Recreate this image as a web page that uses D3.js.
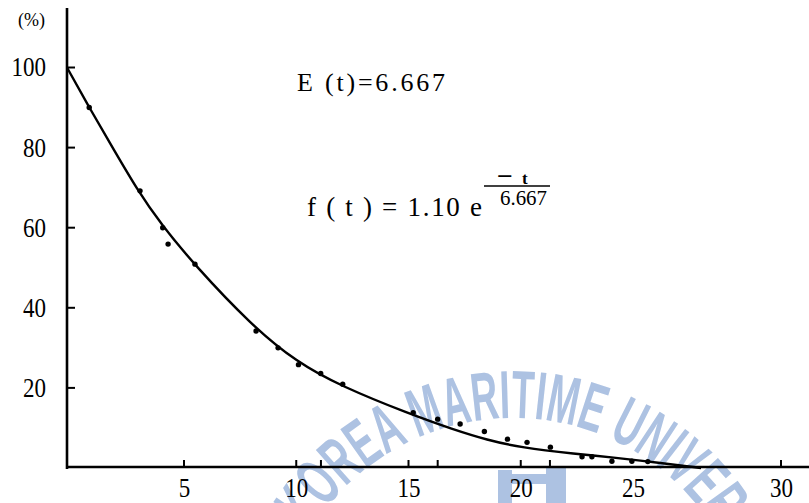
<!DOCTYPE html>
<html>
<head>
<meta charset="utf-8">
<script src="https://cdn.jsdelivr.net/npm/d3@7/dist/d3.min.js"></script>
<style>
  html, body { margin: 0; padding: 0; background: #fff; }
  svg { display: block; }
</style>
</head>
<body>
<svg id="chart" width="809" height="503"></svg>
<script>
// Observed retention (%) against time t
const obsT = [0.95, 3.12, 4.09, 4.32, 5.49, 8.21, 9.19, 10.1, 11.09, 12.07, 15.21, 16.3, 17.3, 18.38, 19.41, 20.28, 21.32, 22.73, 23.17, 24.06, 24.95, 25.5];
const obsV = [90.0, 69.2, 60.0, 55.9, 50.9, 34.2, 30.0, 25.8, 23.6, 20.9, 13.8, 12.2, 11.0, 9.1, 7.2, 6.4, 5.2, 2.8, 2.8, 1.7, 1.7, 1.6];

// Fitted curve, sampled along t
const fitT = [0, 1, 2, 3, 4, 5.5, 8, 10, 12, 15, 17, 18.5, 20, 22.5, 24, 26, 27.3];
const fitV = [100, 89.5, 79.5, 69.5, 61, 50.5, 35.7, 26.5, 20.4, 13.6, 9.6, 7.0, 5.1, 3.5, 2.7, 1.2, 0];

// Axis ticks
const xTickLabels = [5, 10, 15, 20, 25, 30];
const xTickMarks = [5, 10, 11.1, 15, 16.3, 20, 21.3, 30];
const yTickLabels = [20, 40, 60, 80, 100];

const svg = d3.select("#chart");
const serif = "'Liberation Serif', 'DejaVu Serif', serif";

const x = d3.scaleLinear().domain([0, 5, 25, 30]).range([67, 184, 633, 781]);
const y = d3.scaleLinear().domain([0, 100]).range([468, 67.5]);

// Watermark seal text, laid along an arc
const wm = svg.append("g").attr("fill", "#adc2e2");
const cx = 513, cy = 656, rBase = 238;
const a0 = -58.3 * Math.PI / 180, a1 = 77.5 * Math.PI / 180;
const p = (a, r) => [cx + r * Math.sin(a), cy - r * Math.cos(a)];
const [sx, sy] = p(a0, rBase), [ex, ey] = p(a1, rBase);
wm.append("path").attr("id", "sealArc")
  .attr("d", `M${sx},${sy} A${rBase},${rBase} 0 0 1 ${ex},${ey}`)
  .attr("fill", "none");
wm.append("text")
  .attr("font-family", "'Liberation Sans', sans-serif")
  .attr("font-weight", "bold").attr("font-size", 68)
  .append("textPath").attr("href", "#sealArc")
  .attr("textLength", rBase * (a1 - a0)).attr("lengthAdjust", "spacingAndGlyphs")
  .text("KOREA MARITIME UNIVERSITY");
// seal emblem
wm.append("rect").attr("x", 498).attr("y", 470).attr("width", 14).attr("height", 40);
wm.append("rect").attr("x", 546).attr("y", 468).attr("width", 20).attr("height", 42);
wm.append("rect").attr("x", 498).attr("y", 474).attr("width", 68).attr("height", 10);

// Axes
const axisG = svg.append("g").attr("stroke", "#000").attr("fill", "none");
axisG.append("line").attr("x1", x(0)).attr("x2", x(0)).attr("y1", 8).attr("y2", y(0) + 1)
  .attr("stroke-width", 2.6);
axisG.append("line").attr("x1", x(0) - 1).attr("x2", 809).attr("y1", y(0) - 1).attr("y2", y(0) - 1)
  .attr("stroke-width", 2.6);

axisG.selectAll(".yt").data(yTickLabels).join("line")
  .attr("x1", x(0)).attr("x2", x(0) + 8)
  .attr("y1", d => y(d)).attr("y2", d => y(d)).attr("stroke-width", 2);
axisG.selectAll(".xt").data(xTickMarks).join("line")
  .attr("x1", d => x(d)).attr("x2", d => x(d))
  .attr("y1", y(0) - 1).attr("y2", y(0) - 8).attr("stroke-width", 2);

// Tick labels via d3 axes (tick lines hidden, marks drawn above)
const yAxis = svg.append("g").attr("transform", `translate(${x(0)},0)`)
  .call(d3.axisLeft(y).tickValues(yTickLabels).tickSize(0).tickPadding(21));
const xAxis = svg.append("g").attr("transform", `translate(0,${y(0)})`)
  .call(d3.axisBottom(x).tickValues(xTickLabels).tickSize(0).tickPadding(10));
[yAxis, xAxis].forEach(g => {
  g.select(".domain").remove();
  g.selectAll("text")
    .attr("font-family", serif).attr("font-size", 26.5).attr("fill", "#000")
    .attr("textLength", function () { return this.textContent.length * 11.5; })
    .attr("lengthAdjust", "spacingAndGlyphs");
});
xAxis.selectAll("text").attr("dy", "0.71em");

svg.append("text").attr("x", 31.5).attr("y", 26).attr("text-anchor", "middle")
  .attr("font-family", serif).attr("font-size", 18).text("(%)");

// Fitted curve
const line = d3.line().x((d, i) => x(fitT[i])).y(d => y(d)).curve(d3.curveBasis);
svg.append("path").datum(fitV).attr("d", line)
  .attr("fill", "none").attr("stroke", "#000").attr("stroke-width", 2.4);

// Observations
svg.append("g").selectAll("circle").data(obsV).join("circle")
  .attr("cx", (d, i) => x(obsT[i])).attr("cy", d => y(d)).attr("r", 2.7).attr("fill", "#000");

// Annotations
svg.append("text").attr("x", 297).attr("y", 91)
  .attr("font-family", serif).attr("font-size", 26)
  .attr("textLength", 148).attr("lengthAdjust", "spacing")
  .text("E (t)=6.667");
svg.append("text").attr("x", 307).attr("y", 216)
  .attr("font-family", serif).attr("font-size", 27)
  .attr("textLength", 175).attr("lengthAdjust", "spacing")
  .text("f ( t ) = 1.10 e");
// exponent: -t / 6.667
const num = svg.append("text").attr("font-family", serif).attr("font-weight", "bold");
num.append("tspan").attr("x", 497).attr("y", 185).attr("font-size", 26)
  .attr("textLength", 16).attr("lengthAdjust", "spacingAndGlyphs").text("\u2212");
num.append("tspan").attr("x", 522).attr("y", 183.5).attr("font-size", 17).text("t");
svg.append("line").attr("x1", 484).attr("x2", 550).attr("y1", 186).attr("y2", 186)
  .attr("stroke", "#000").attr("stroke-width", 1.6);
svg.append("text").attr("x", 500).attr("y", 205)
  .attr("font-family", serif).attr("font-size", 21)
  .attr("textLength", 47).attr("lengthAdjust", "spacingAndGlyphs")
  .text("6.667");
</script>
</body>
</html>
